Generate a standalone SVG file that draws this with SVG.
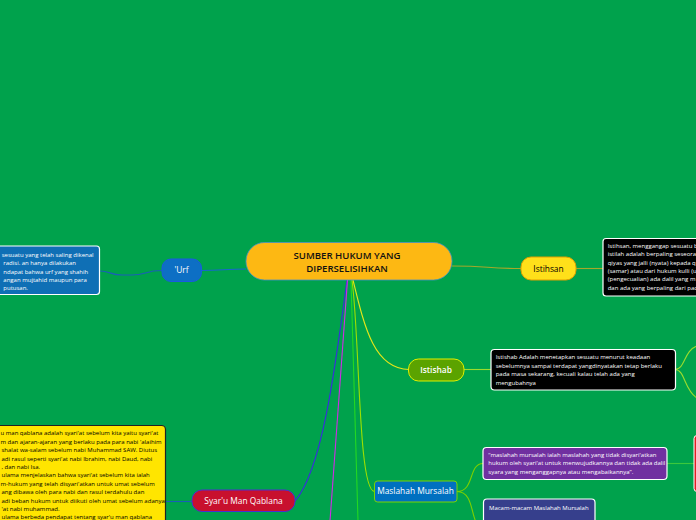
<svg xmlns="http://www.w3.org/2000/svg" width="696" height="520" viewBox="0 0 696 520">
<style>
.t{font-family:"Open Sans","Noto Sans","DejaVu Sans",sans-serif}
.s{font-size:6px}
.w{fill:#ffffff}
.k{fill:#000000}
.node{font-size:8.4px;text-anchor:middle}
.box{stroke:#ffffff;stroke-width:1.2}
#connectors path{fill:none;stroke-width:1.1}
</style>
<rect x="0" y="0" width="696" height="520" fill="#00A24C"/>
<g id="connectors">
  <path d="M246,269 C225,269 222,270.5 202,270.5" stroke="#1766D0"/>
  <path d="M162,270.5 C145,270.5 146,275 132,275 L122,275 C110,275 110,271 100,271" stroke="#1A5FB8"/>
  <path d="M452,266 C490,266 485,268.5 521,268.5" stroke="#A4A82A"/>
  <path d="M576,268.5 L603,268.5" stroke="#A4A82A"/>
  <path d="M353,280 C365,330 375,369 409,369.5" stroke="#E6E619"/>
  <path d="M464,369.5 L491,369.5" stroke="#9BDC2E"/>
  <path d="M675,369.5 C685,369.5 684,350 697,346 M675,369.5 C685,369.5 684,390 697,398" stroke="#9BDC2E"/>
  <path d="M347,280 C335,370 322,470 295,501" stroke="#3A2BE0"/>
  <path d="M192,501.5 L166,501.5" stroke="#1A5FB8"/>
  <path d="M347.5,280 L330,521" stroke="#D02BE6"/>
  <path d="M351,280 L358,521" stroke="#22D822"/>
  <path d="M352,280 C360,340 358,491 374.5,491.5" stroke="#9DE000"/>
  <path d="M457,491.5 C475,491.5 468,463.5 483,463.5 M457,491.5 C475,491.5 470,521 480,528" stroke="#7CD000"/>
  <path d="M667,463.5 L694,463.5" stroke="#3CC83C"/>
</g>
<g id="central">
  <rect x="246" y="242.5" width="206" height="37.5" rx="18.5" fill="#FDB813" stroke="#4A90C8" stroke-width="0.8"/>
  <text class="t" x="347" y="258.8" font-size="9.6" font-weight="600" text-anchor="middle" fill="#111">SUMBER HUKUM YANG</text>
  <text class="t" x="347" y="272.2" font-size="9.6" font-weight="600" text-anchor="middle" fill="#111">DIPERSELISIHKAN</text>
</g>
<g id="urf">
  <rect x="162" y="259" width="39.5" height="22.5" rx="9" fill="#0D6FC4" stroke="#1A5BE0" stroke-width="1"/>
  <text class="t node w" x="181.5" y="273.3">'Urf</text>
</g>
<g id="urf-text">
  <rect x="-60" y="246" width="159.5" height="48.5" rx="3" fill="#0F6FB5" class="box"/>
  <text class="t s w" x="1.7" y="257.2">sesuatu yang telah saling dikenal</text>
  <text class="t s w" x="3.3" y="265.4">radisi. an hanya dilakukan</text>
  <text class="t s w" x="3.3" y="273.6">ndapat bahwa urf yang shahih</text>
  <text class="t s w" x="3.3" y="281.8">angan mujtahid maupun para</text>
  <text class="t s w" x="3.3" y="290">putusan.</text>
</g>
<g id="istihsan">
  <rect x="521" y="257" width="55" height="23" rx="10" fill="#FFE01A" stroke="#E0A000" stroke-width="1"/>
  <text class="t node k" x="548.5" y="271.5">Istihsan</text>
</g>
<g id="istihsan-text">
  <rect x="603" y="238.5" width="120" height="57.5" rx="3" fill="#000000" class="box"/>
  <text class="t s w" x="607.7" y="248">Istihsan, menggangap sesuatu b</text>
  <text class="t s w" x="607.7" y="256.3">istilah adalah berpaling seseora</text>
  <text class="t s w" x="607.7" y="264.6">qiyas yang jalli (nyata) kepada q</text>
  <text class="t s w" x="607.7" y="272.9">(samar) atau dari hukum kulli (u</text>
  <text class="t s w" x="607.7" y="281.2">(pengecualian) ada dalil yang m</text>
  <text class="t s w" x="607.7" y="289.5">dan ada yang berpaling dari pad</text>
</g>
<g id="istishab">
  <rect x="408.5" y="359" width="55.5" height="22" rx="10" fill="#5BA300" stroke="#E0F000" stroke-width="1"/>
  <text class="t node w" x="436" y="373" font-weight="600">Istishab</text>
</g>
<g id="istishab-text">
  <rect x="491" y="349.5" width="184.5" height="40.5" rx="3.5" fill="#000000" class="box"/>
  <text class="t s w" x="495.7" y="359">Istishab Adalah menetapkan sesuatu menurut keadaan</text>
  <text class="t s w" x="495.7" y="367.5">sebelumnya sampai terdapat yangdinyatakan tetap berlaku</text>
  <text class="t s w" x="495.7" y="376">pada masa sekarang, kecuali kalau telah ada yang</text>
  <text class="t s w" x="495.7" y="384.5">mengubahnya</text>
</g>
<g id="syaru">
  <rect x="192" y="490" width="103" height="21.5" rx="10" fill="#C8102E" stroke="#4B2ED0" stroke-width="1"/>
  <text class="t node w" x="243.5" y="504">Syar'u Man Qablana</text>
</g>
<g id="syaru-text">
  <rect x="-60" y="425.5" width="225.5" height="120" rx="4" fill="#FFE500" stroke="#222222" stroke-width="1.2"/>
  <text class="t s k" x="0.5" y="435.3">u man qablana adalah syari'at sebelum kita yaitu syari'at</text>
  <text class="t s k" x="0.5" y="443.7">m dan ajaran-ajaran yang berlaku pada para nabi 'alaihim</text>
  <text class="t s k" x="1.5" y="452.1">shalat wa-salam sebelum nabi Muhammad SAW. Diutus</text>
  <text class="t s k" x="1.5" y="460.5">adi rasul seperti syari'at nabi Ibrahim, nabi Daud, nabi</text>
  <text class="t s k" x="1.5" y="468.9">, dan nabi Isa.</text>
  <text class="t s k" x="1.5" y="477.3">ulama menjelaskan bahwa syari'at sebelum kita ialah</text>
  <text class="t s k" x="0.5" y="485.7">m-hukum yang telah disyari'atkan untuk umat sebelum</text>
  <text class="t s k" x="1.5" y="494.1">ang dibawa oleh para nabi dan rasul terdahulu  dan</text>
  <text class="t s k" x="1.5" y="502.5">adi beban hukum untuk diikuti oleh umat sebelum adanya</text>
  <text class="t s k" x="1.5" y="510.9">'at nabi muhammad.</text>
  <text class="t s k" x="1.5" y="519.3">ulama berbeda pendapat tentang syar'u man qablana</text>
</g>
<g id="maslahah">
  <rect x="374.5" y="481" width="82.5" height="21" rx="3" fill="#0070C0" stroke="#7CD500" stroke-width="1"/>
  <text class="t node w" x="415.5" y="494.3">Maslahah Mursalah</text>
</g>
<g id="maslahah-def">
  <rect x="483" y="447.5" width="184" height="32" rx="3.5" fill="#7030A0" class="box"/>
  <text class="t s w" x="488.3" y="456.5">“maslahah mursalah ialah maslahah yang tidak disyari'atkan</text>
  <text class="t s w" x="488.3" y="465">hukum oleh syari'at untuk menwujudkannya dan tidak ada dalil</text>
  <text class="t s w" x="488.3" y="473.5">syara yang menganggapnya atau mengabaikannya”.</text>
</g>
<g id="maslahah-red">
  <rect x="694" y="435.5" width="20" height="56" rx="3" fill="#E31E24" stroke="#ffffff" stroke-width="1"/>
</g>
<g id="maslahah-macam">
  <rect x="483.5" y="499" width="111.5" height="40" rx="3.5" fill="#363F8C" class="box"/>
  <text class="t s w" x="489" y="509.5">Macam-macam Maslahah Mursalah</text>
</g>
</svg>
